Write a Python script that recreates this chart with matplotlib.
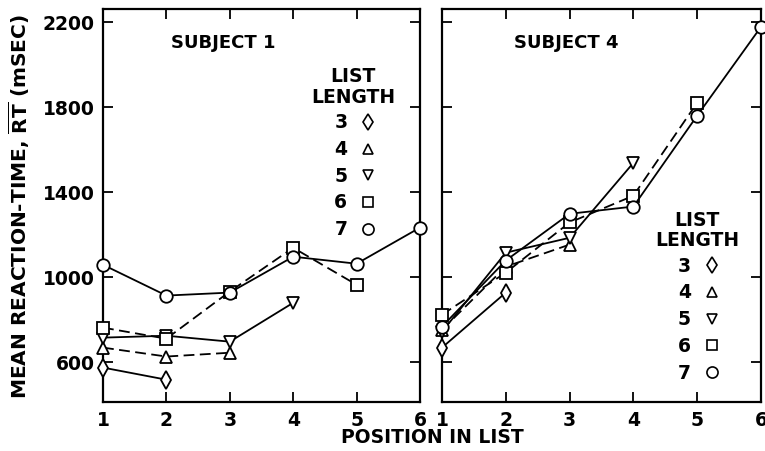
import matplotlib
matplotlib.use("Agg")
import matplotlib.pyplot as plt

# positions in list
positions = [1, 2, 3, 4, 5, 6]
list_lengths = [3, 4, 5, 6, 7]

# Subject 1 mean RT (msec) for each list length
s1_len3 = [572, 515]
s1_len4 = [666, 624, 642]
s1_len5 = [713, 722, 694, 877]
s1_len6 = [760, 708, 930, 1136, 962]
s1_len7 = [1056, 911, 925, 1094, 1061, 1231]

# Subject 4 mean RT (msec)
s4_len3 = [666, 925]
s4_len4 = [750, 1047, 1151]
s4_len5 = [741, 1113, 1183, 1536]
s4_len6 = [821, 1019, 1255, 1381, 1819]
s4_len7 = [765, 1076, 1296, 1330, 1758, 2176]

yticks = [600, 1000, 1400, 1800, 2200]

markers = {3: 'd', 4: '^', 5: 'v', 6: 's', 7: 'o'}
styles = {3: '-', 4: '--', 5: '-', 6: '--', 7: '-'}
msizes = {3: 9, 4: 8, 5: 8, 6: 8, 7: 9}

plt.rcParams['font.family'] = ['DejaVu Sans']
plt.rcParams['font.weight'] = 'bold'
FS = 13.5

fig = plt.figure(figsize=(7.65, 4.52), dpi=100)
ax1 = fig.add_axes([103/765, 1-403/452, 317/765, 393/452])
ax2 = fig.add_axes([442/765, 1-403/452, 319/765, 393/452])

def draw(ax, series, title, title_xy, legend_xy):
    for n, vals in zip(list_lengths, series):
        ax.plot(positions[:len(vals)], vals, linestyle=styles[n], marker=markers[n],
                color='black', lw=1.3, markersize=msizes[n], markerfacecolor='white',
                markeredgecolor='black', markeredgewidth=1.3,
                dashes=(6, 3) if styles[n] == '--' else (None, None),
                clip_on=False, zorder=3)
    ax.set_xlim(1, 6)
    ax.set_ylim(410, 2260)
    ax.set_xticks(positions)
    ax.set_yticks(yticks)
    ax.tick_params(direction='in', length=7, width=1.3, top=True, right=True,
                   labelsize=FS, pad=6)
    for sp in ax.spines.values():
        sp.set_linewidth(1.6)
    ax.text(title_xy[0], title_xy[1], title, transform=ax.transAxes, fontsize=FS - 0.5,
            fontweight='bold', ha='center', va='center')
    lx, ly = legend_xy
    ax.text(lx, ly, 'LIST', transform=ax.transAxes, fontsize=FS, ha='center', va='center')
    ax.text(lx, ly - 0.052, 'LENGTH', transform=ax.transAxes, fontsize=FS, ha='center', va='center')
    for i, n in enumerate(list_lengths):
        yy = ly - 0.117 - i * 0.068
        ax.text(lx - 0.04, yy, str(n), transform=ax.transAxes, fontsize=FS,
                ha='center', va='center')
        ax.plot([lx + 0.045], [yy], transform=ax.transAxes, marker=markers[n],
                color='black', markersize=msizes[n] - 1, markerfacecolor='white',
                markeredgewidth=1.2, clip_on=False)

draw(ax1, [s1_len3, s1_len4, s1_len5, s1_len6, s1_len7], 'SUBJECT 1',
     (0.38, 0.916), (0.79, 0.83))
draw(ax2, [s4_len3, s4_len4, s4_len5, s4_len6, s4_len7], 'SUBJECT 4',
     (0.39, 0.916), (0.80, 0.465))
ax2.set_yticklabels([])

ax1.set_ylabel(r'MEAN REACTION-TIME, $\mathbf{\overline{RT}}$ (mSEC)', fontsize=FS + 1,
               fontweight='bold', labelpad=8)
fig.text((103 + 761) / 2 / 765, 1 - 438/452, 'POSITION IN LIST', ha='center',
         va='center', fontsize=FS, fontweight='bold')

fig.savefig('out.png', dpi=100)
